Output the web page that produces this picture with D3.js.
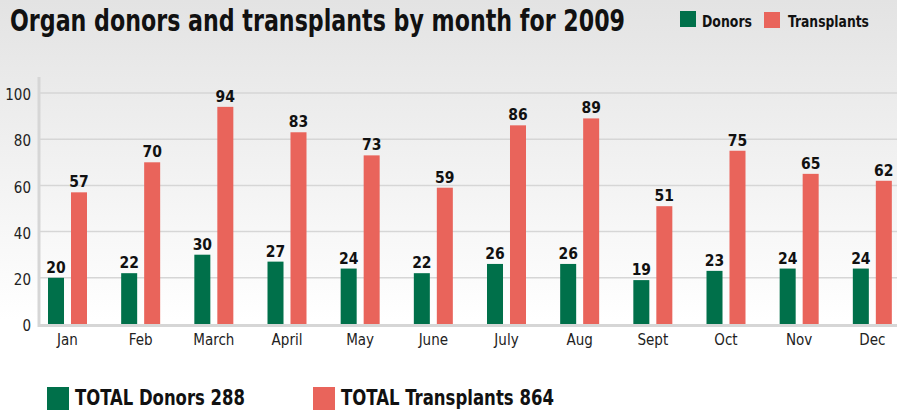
<!DOCTYPE html>
<html>
<head>
<meta charset="utf-8">
<script src="https://cdn.jsdelivr.net/npm/d3@7"></script>
<style>
  html, body { margin: 0; padding: 0; background: #fff; }
  svg { display: block; }
</style>
</head>
<body>
<div id="chart"></div>
<script>
'use strict';

// chart data
const months = ['Jan', 'Feb', 'March', 'April', 'May', 'June', 'July', 'Aug', 'Sept', 'Oct', 'Nov', 'Dec'];
const donors = [20, 22, 30, 27, 24, 22, 26, 26, 19, 23, 24, 24];
const transplants = [57, 70, 94, 83, 73, 59, 86, 89, 51, 75, 65, 62];
const seriesNames = ['Donors', 'Transplants'];
const yTicks = [0, 20, 40, 60, 80, 100];
const totalLabels = ['TOTAL Donors 288', 'TOTAL Transplants 864'];

const width = 897;
const height = 410;
const colors = { Donors: '#00704a', Transplants: '#e9645b' };
const font = '"Liberation Sans Narrow", "DejaVu Sans Condensed", "Roboto", sans-serif';

const svg = d3.select('#chart').append('svg').attr('width', width).attr('height', height);

// squeeze a text horizontally so it spans w pixels (keeps real bbox)
const fitWidth = function(sel, x, yPos, w) {
    sel.each(function(d, i) {
        const natural = this.getComputedTextLength();
        const tx = typeof x === 'function' ? x(d, i) : x;
        const tw = typeof w === 'function' ? w(d, i) : w;
        d3.select(this).attr('transform', `translate(${tx},${yPos}) scale(${tw / natural},1)`);
    });
};

// background gradient
const grad = svg.append('defs').append('linearGradient').attr('id', 'bg').attr('x1', 0).attr('y1', 0).attr('x2', 0).attr('y2', 1);
grad.append('stop').attr('offset', '0%').attr('stop-color', '#e3e3e3');
grad.append('stop').attr('offset', '78%').attr('stop-color', '#ffffff');
grad.append('stop').attr('offset', '100%').attr('stop-color', '#ffffff');
svg.append('rect').attr('width', width).attr('height', height).attr('fill', 'url(#bg)');

// scales
const x = d3.scaleBand().domain(months).range([31, 909]).padding(0);
const x1 = d3.scaleBand().domain(seriesNames).range([17, 56]).paddingInner(0.304).paddingOuter(0);
const y = d3.scaleLinear().domain([0, 100]).range([324, 93]);

const rows = months.map((m, i) => ({ month: m, Donors: donors[i], Transplants: transplants[i] }));

// gridlines
svg.append('g').selectAll('line').data(yTicks.filter(d => d > 0)).enter().append('line')
    .attr('x1', 40).attr('x2', width)
    .attr('y1', d => y(d)).attr('y2', d => y(d))
    .attr('stroke', '#d6d6d6').attr('stroke-width', 1.5);

// axis lines
svg.append('line').attr('x1', 39).attr('x2', 39).attr('y1', 77).attr('y2', 327)
    .attr('stroke', '#d6d6d6').attr('stroke-width', 3);
svg.append('line').attr('x1', 38).attr('x2', width).attr('y1', y(0) + 1.5).attr('y2', y(0) + 1.5)
    .attr('stroke', '#d6d6d6').attr('stroke-width', 3);

// y tick labels
svg.append('g').selectAll('text').data(yTicks).enter().append('text')
    .attr('x', 31).attr('y', d => y(d) + 2)
    .attr('dy', '0.35em')
    .attr('text-anchor', 'end')
    .style('font-family', font).style('font-size', '15px').attr('fill', '#222')
    .text(d => d);

// bars
const groups = svg.append('g').selectAll('g').data(rows).enter().append('g')
    .attr('transform', d => `translate(${x(d.month)},0)`);

const bars = groups.selectAll('g.bar')
    .data(d => seriesNames.map(s => ({ key: s, value: d[s] })))
    .enter().append('g').attr('class', 'bar');

bars.append('rect')
    .attr('x', d => x1(d.key))
    .attr('y', d => y(d.value))
    .attr('width', x1.bandwidth())
    .attr('height', d => y(0) - y(d.value))
    .attr('fill', d => colors[d.key]);

bars.append('text')
    .attr('x', d => x1(d.key) + x1.bandwidth() / 2)
    .attr('y', d => y(d.value) - 5)
    .attr('text-anchor', 'middle')
    .style('font-family', font).style('font-size', '15.5px').style('font-weight', 'bold')
    .attr('fill', '#111')
    .text(d => d.value);

// month labels
svg.append('g').selectAll('text').data(months).enter().append('text')
    .attr('x', d => x(d) + 36.5)
    .attr('y', 345)
    .attr('text-anchor', 'middle')
    .style('font-family', font).style('font-size', '15px').attr('fill', '#222')
    .text(d => d);

// title
svg.append('text')
    .style('font-family', font).style('font-size', '31px').style('font-weight', 'bold')
    .attr('fill', '#111')
    .text('Organ donors and transplants by month for 2009')
    .call(fitWidth, 10, 31, 615);

// top legend
const topLegend = [
    { key: 'Donors', sx: 680, sy: 11, tx: 702, tw: 50 },
    { key: 'Transplants', sx: 764, sy: 12, tx: 788, tw: 81 }
];
const tl = svg.append('g').selectAll('g').data(topLegend).enter().append('g');
tl.append('rect').attr('x', d => d.sx).attr('y', d => d.sy).attr('width', 16).attr('height', 16)
    .attr('fill', d => colors[d.key]);
tl.append('text')
    .style('font-family', font).style('font-size', '15px').style('font-weight', 'bold')
    .attr('fill', '#111')
    .text(d => d.key)
    .call(fitWidth, d => d.tx, 27, d => d.tw);

// bottom totals
const bottomLegend = [
    { key: 'Donors', label: totalLabels[0], sx: 47, tx: 75, tw: 170 },
    { key: 'Transplants', label: totalLabels[1], sx: 313, tx: 341, tw: 213 }
];
const bl = svg.append('g').selectAll('g').data(bottomLegend).enter().append('g');
bl.append('rect').attr('x', d => d.sx).attr('y', 387).attr('width', 22).attr('height', 23)
    .attr('fill', d => colors[d.key]);
bl.append('text')
    .style('font-family', font).style('font-size', '22px').style('font-weight', 'bold')
    .attr('fill', '#111')
    .text(d => d.label)
    .call(fitWidth, d => d.tx, 405, d => d.tw);
</script>
</body>
</html>
